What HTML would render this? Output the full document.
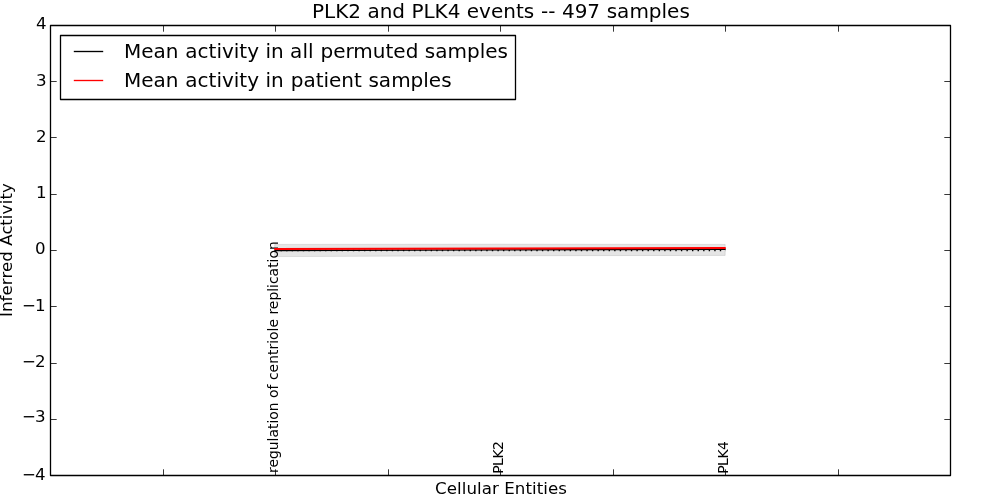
<!DOCTYPE html>
<html lang="en">
<head>
<meta charset="utf-8">
<title>PLK2 and PLK4 events -- 497 samples</title>
<style>
  html, body { margin: 0; padding: 0; background: #ffffff; }
  body { width: 1000px; height: 500px; overflow: hidden; }
  svg { display: block; }
  text { font-family: "DejaVu Sans", "Liberation Sans", sans-serif; fill: #000000; }
  .t20 { font-size: 20px; }
  .t16 { font-size: 16.67px; }
  .t14 { font-size: 13.89px; }
</style>
</head>
<body>
<svg width="1000" height="500" viewBox="0 0 1000 500">
  <rect x="0" y="0" width="1000" height="500" fill="#ffffff"/>

  <!-- x tick labels (rotated, inside axes) -->
  <g class="t14">
    <text transform="translate(278,473) rotate(-90)" textLength="231.8" lengthAdjust="spacing">regulation of centriole replication</text>
    <text transform="translate(502.8,473.7) rotate(-90)" x="0 7.6 15.3 23.6">PLK2</text>
    <text transform="translate(727.8,473.7) rotate(-90)" x="0 7.6 15.3 23.6">PLK4</text>
  </g>

  <!-- confidence band -->
  <polygon points="274.7,244.4 500,244.2 725.2,244.4 725.2,255.4 500,255.8 274.7,256.6" fill="#000000" fill-opacity="0.1" stroke="#000000" stroke-opacity="0.1" stroke-width="1"/>

  <!-- dotted zero line -->
  <line x1="275" y1="250.5" x2="725.5" y2="250.5" stroke="#000000" stroke-width="1.39" stroke-dasharray="1.39 4.17"/>
  <!-- black mean line (permuted) -->
  <polyline points="274.3,250.5 500,249.9 725.7,249.3" fill="none" stroke="#000000" stroke-width="1.39"/>
  <!-- red mean line (patients) -->
  <polyline points="274.3,248.9 500,248.45 725.7,248.1" fill="none" stroke="#ff0000" stroke-width="2.0"/>

  <!-- axes frame -->
  <rect x="50.5" y="25.5" width="900" height="450" fill="none" stroke="#000000" stroke-width="1.3" stroke-linejoin="round"/>

  <!-- x ticks bottom & top -->
  <g stroke="#000000" stroke-width="1" stroke-opacity="0.78" fill="none">
    <path d="M163.5,475.5V469.3 M275.5,475.5V469.3 M388.5,475.5V469.3 M500.5,475.5V469.3 M613.5,475.5V469.3 M725.5,475.5V469.3 M838.5,475.5V469.3"/>
    <path d="M163.5,25.5V31.7 M275.5,25.5V31.7 M388.5,25.5V31.7 M500.5,25.5V31.7 M613.5,25.5V31.7 M725.5,25.5V31.7 M838.5,25.5V31.7"/>
    <!-- y ticks left & right -->
    <path d="M50.5,81.5H56.7 M50.5,137.5H56.7 M50.5,194.5H56.7 M50.5,250.5H56.7 M50.5,306.5H56.7 M50.5,363.5H56.7 M50.5,419.5H56.7"/>
    <path d="M950.5,81.5H944.3 M950.5,137.5H944.3 M950.5,194.5H944.3 M950.5,250.5H944.3 M950.5,306.5H944.3 M950.5,363.5H944.3 M950.5,419.5H944.3"/>
  </g>

  <!-- y tick labels -->
  <g class="t16" text-anchor="end">
    <text x="46.5" y="28.8">4</text>
    <text x="46.5" y="85.5">3</text>
    <text x="46.5" y="141.8">2</text>
    <text x="46.5" y="197.6">1</text>
    <text x="45.7" y="253.8">0</text>
    <text x="21.9 34.9" y="311" text-anchor="start">−1</text>
    <text x="21.9 35.0" y="367" text-anchor="start">−2</text>
    <text x="21.9 34.9" y="422.4" text-anchor="start">−3</text>
    <text x="21.9 34.9" y="479.5" text-anchor="start">−4</text>
  </g>

  <!-- axis labels -->
  <text class="t16" x="435" y="494" textLength="132" lengthAdjust="spacing">Cellular Entities</text>
  <text class="t16" transform="translate(11.8,317) rotate(-90)" letter-spacing="0.055">Inferred Ac<tspan dx="-0.45">tiv</tspan><tspan dx="0.45">ity</tspan></text>

  <!-- title -->
  <text class="t20" x="312" y="18">PLK2 and PLK4 events<tspan dx="0.6"> -- 497</tspan><tspan dx="0.25"> samples</tspan></text>

  <!-- legend -->
  <rect x="60.5" y="35.5" width="455" height="64" fill="#ffffff" stroke="#000000" stroke-width="1.3" stroke-linejoin="round"/>
  <line x1="73.8" y1="51.5" x2="103.2" y2="51.5" stroke="#000000" stroke-width="1.35"/>
  <line x1="73.8" y1="80.5" x2="103.2" y2="80.5" stroke="#ff0000" stroke-width="1.35"/>
  <text class="t20" x="124" y="58">Mean<tspan dx="0.45"> activity</tspan><tspan dx="0.15"> in all</tspan><tspan dx="0.6"> permuted</tspan><tspan dx="0.15"> samples</tspan></text>
  <text class="t20" x="124" y="86.8">Mean<tspan dx="0.45"> activity</tspan><tspan dx="0.15"> in</tspan><tspan dx="0.6"> patient</tspan><tspan dx="0.2"> samples</tspan></text>
</svg>
</body>
</html>
